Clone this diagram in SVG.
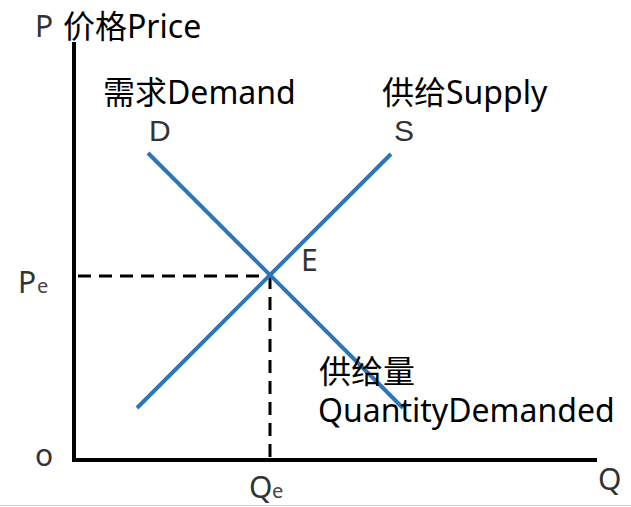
<svg xmlns="http://www.w3.org/2000/svg" width="631" height="507" viewBox="0 0 631 507">
<style>
.lbl{font-family:"Noto Sans","Noto Sans CJK SC",sans-serif;font-size:32px;fill:#000}
.ax{font-family:"Noto Sans","Noto Sans CJK SC",sans-serif;font-size:30px;fill:#333}
.ax2{font-family:"Liberation Sans",sans-serif;font-size:30px;fill:#333}
.sub{font-family:"Noto Sans",sans-serif;font-size:20px;fill:#444}
.axis{stroke:#000;stroke-width:4;fill:none}
.curve{stroke:#2b75b9;stroke-width:4;fill:none}
.dash{stroke:#000;stroke-width:3;stroke-dasharray:13 8;fill:none}
</style>
<rect width="631" height="507" fill="#fff"/>
<g id="connectors">
<line class="axis" x1="74" y1="42" x2="74" y2="460"/>
<line class="axis" x1="72" y1="460" x2="597" y2="460"/>
<line class="dash" x1="78" y1="276" x2="270" y2="276"/>
<line class="dash" x1="270" y1="276" x2="270" y2="458"/>
</g>
<g id="demand"><line class="curve" x1="148" y1="153" x2="403" y2="408"/></g>
<g id="supply"><line class="curve" x1="137" y1="408" x2="391" y2="154"/></g>
<g id="labels">
<text class="ax" x="35" y="37">P</text>
<text class="lbl" x="63" y="38">价格Price</text>
<text class="lbl" x="103" y="104">需求Demand</text>
<text class="ax2" x="149" y="141">D</text>
<text class="lbl" x="382" y="104">供给Supply</text>
<text class="ax2" x="394" y="141">S</text>
<text class="ax" x="301" y="271">E</text>
<text class="ax" x="18" y="293">P</text><text class="sub" x="37" y="293">e</text>
<text class="ax" x="35" y="466">o</text>
<text class="ax" x="249" y="498">Q</text><text class="sub" x="272" y="498">e</text>
<text class="ax" x="598" y="490">Q</text>
<text class="lbl" x="319" y="383">供给量</text>
<text class="lbl" x="318" y="422">QuantityDemanded</text>
</g>
<line x1="0" y1="505.5" x2="631" y2="505.5" stroke="#d0d0d0" stroke-width="1"/>
</svg>
